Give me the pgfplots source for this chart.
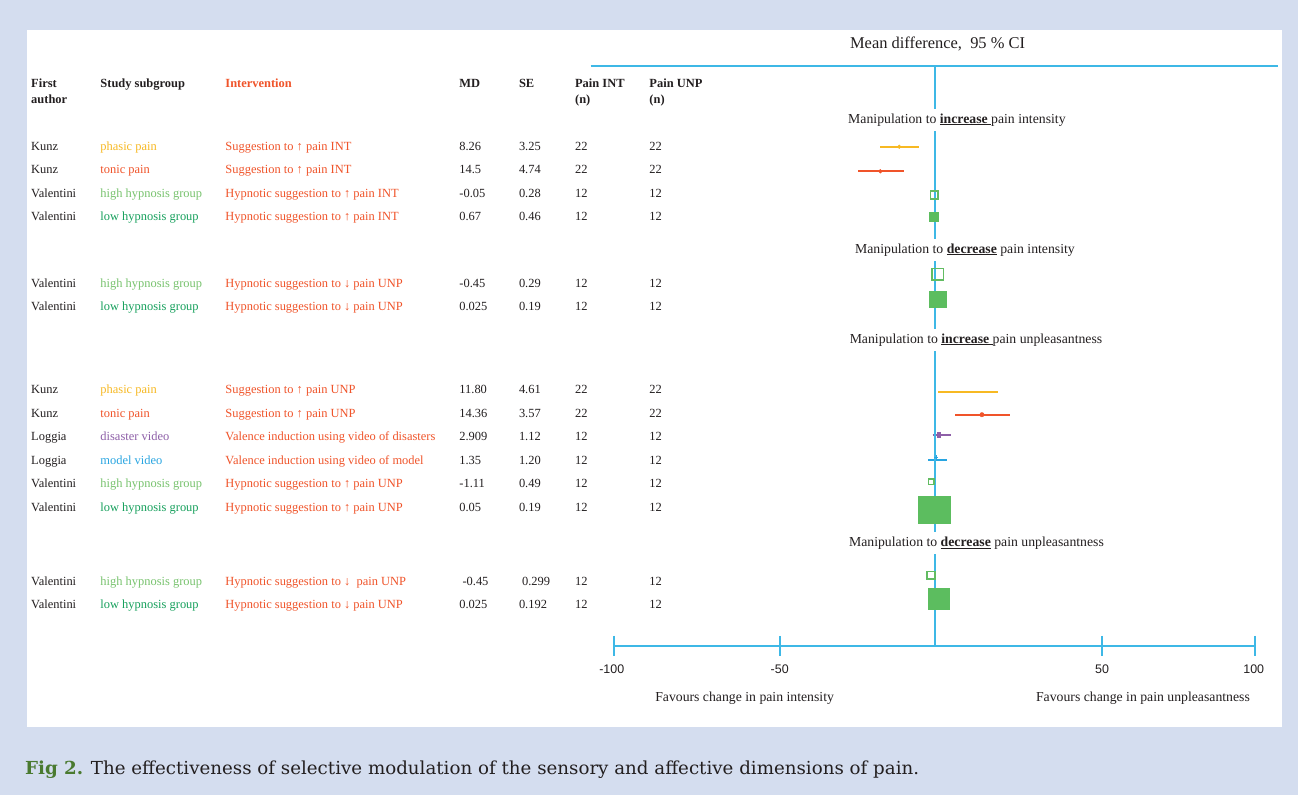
\documentclass[border=0pt]{standalone}
\usepackage{pgfplots}
\pgfplotsset{compat=1.18}
\usepackage{fontspec}
\usepackage{graphicx}
\setmainfont{Liberation Serif}
\newfontfamily\sansf{Liberation Sans}
\newfontfamily\capfont{DejaVu Serif}
\definecolor{bgblue}{RGB}{212,221,239}
\definecolor{lineblue}{RGB}{62,184,230}
\definecolor{txt}{RGB}{35,31,32}
\definecolor{gold}{RGB}{247,185,35}
\definecolor{redor}{RGB}{240,84,42}
\definecolor{lgreen}{RGB}{120,195,110}
\definecolor{dgreen}{RGB}{22,160,92}
\definecolor{sqgreen}{RGB}{98,188,98}
\definecolor{fgreen}{RGB}{92,189,95}
\definecolor{purp}{RGB}{142,95,168}
\definecolor{mblue}{RGB}{40,165,225}
\definecolor{capgreen}{RGB}{74,122,48}
\newcommand{\rf}{\fontsize{12.5}{15}\selectfont}
% y-baseline, author, subgroup colour, subgroup, intervention, MD, SE, nINT, nUNP
\newcommand{\rowtxt}[9]{%
 \node[txt, font=\rf, anchor=base west, inner sep=0pt] at (-281.9,#1) {#2};
 \node[#3, font=\rf, anchor=base west, inner sep=0pt] at (-260.3,#1) {#4};
 \node[redor, font=\rf, anchor=base west, inner sep=0pt] at (-221.3,#1) {#5};
 \node[txt, font=\rf, anchor=base west, inner sep=0pt] at (-148.3,#1) {#6};
 \node[txt, font=\rf, anchor=base west, inner sep=0pt] at (-129.7,#1) {#7};
 \node[txt, font=\rf, anchor=base west, inner sep=0pt] at (-112.2,#1) {#8};
 \node[txt, font=\rf, anchor=base west, inner sep=0pt] at (-89.0,#1) {#9};
}
\begin{document}
\begin{tikzpicture}
\begin{axis}[scale only axis, width=1298bp, height=795bp,
  xmin=-291.58, xmax=113.42, ymin=0, ymax=795, y dir=reverse,
  hide axis, clip=false]
% panels
\fill[bgblue] (-291.58,0) rectangle (113.42,795);
\fill[white] (-283.2,30) rectangle (108.3,727);
% header
\draw[lineblue, line width=2bp] (-107.3,66.5) -- (107.3,66.5);
\node[txt, font=\fontsize{16.5}{18}\selectfont, anchor=base west, inner sep=0pt] at (-26.4,49) {Mean difference,\ \ 95 \% CI};
\node[txt, font=\rf\bfseries, anchor=base west, inner sep=0pt] at (-281.9,87.2) {First};
\node[txt, font=\rf\bfseries, anchor=base west, inner sep=0pt] at (-281.9,103.8) {author};
\node[txt, font=\rf\bfseries, anchor=base west, inner sep=0pt] at (-260.3,87.2) {Study subgroup};
\node[redor, font=\rf\bfseries, anchor=base west, inner sep=0pt] at (-221.3,87.2) {Intervention};
\node[txt, font=\rf\bfseries, anchor=base west, inner sep=0pt] at (-148.3,87.2) {MD};
\node[txt, font=\rf\bfseries, anchor=base west, inner sep=0pt] at (-129.7,87.2) {SE};
\node[txt, font=\rf\bfseries, anchor=base west, inner sep=0pt] at (-112.2,87.2) {Pain INT};
\node[txt, font=\rf\bfseries, anchor=base west, inner sep=0pt] at (-112.2,103.8) {(n)};
\node[txt, font=\rf\bfseries, anchor=base west, inner sep=0pt] at (-89.0,87.2) {Pain UNP};
\node[txt, font=\rf\bfseries, anchor=base west, inner sep=0pt] at (-89.0,103.8) {(n)};
% rows
\rowtxt{150.5}{Kunz}{gold}{phasic pain}{Suggestion to ↑ pain INT}{8.26}{3.25}{22}{22}
\rowtxt{173.8}{Kunz}{redor}{tonic pain}{Suggestion to ↑ pain INT}{14.5}{4.74}{22}{22}
\rowtxt{197.2}{Valentini}{lgreen}{high hypnosis group}{Hypnotic suggestion to ↑ pain INT}{-0.05}{0.28}{12}{12}
\rowtxt{220.5}{Valentini}{dgreen}{low hypnosis group}{Hypnotic suggestion to ↑ pain INT}{0.67}{0.46}{12}{12}
\rowtxt{287.2}{Valentini}{lgreen}{high hypnosis group}{Hypnotic suggestion to ↓ pain UNP}{-0.45}{0.29}{12}{12}
\rowtxt{310.5}{Valentini}{dgreen}{low hypnosis group}{Hypnotic suggestion to ↓ pain UNP}{0.025}{0.19}{12}{12}
\rowtxt{393.8}{Kunz}{gold}{phasic pain}{Suggestion to ↑ pain UNP}{11.80}{4.61}{22}{22}
\rowtxt{417.5}{Kunz}{redor}{tonic pain}{Suggestion to ↑ pain UNP}{14.36}{3.57}{22}{22}
\rowtxt{440.8}{Loggia}{purp}{disaster video}{Valence induction using video of disasters}{2.909}{1.12}{12}{12}
\rowtxt{464.5}{Loggia}{mblue}{model video}{Valence induction using video of model}{1.35}{1.20}{12}{12}
\rowtxt{487.8}{Valentini}{lgreen}{high hypnosis group}{Hypnotic suggestion to ↑ pain UNP}{-1.11}{0.49}{12}{12}
\rowtxt{511.5}{Valentini}{dgreen}{low hypnosis group}{Hypnotic suggestion to ↑ pain UNP}{0.05}{0.19}{12}{12}
\rowtxt{585.2}{Valentini}{lgreen}{high hypnosis group}{Hypnotic suggestion to ↓ \ pain UNP}{\ -0.45}{\ 0.299}{12}{12}
\rowtxt{608.8}{Valentini}{dgreen}{low hypnosis group}{Hypnotic suggestion to ↓ pain UNP}{0.025}{0.192}{12}{12}
% ---- forest: section 1
\addplot[gold, line width=1.9bp] coordinates {(-17.0,146.7) (-4.84,146.7)};
\addplot[gold, only marks, mark=*, mark size=1.9bp] coordinates {(-11.0,146.7)};
\addplot[redor, line width=1.9bp] coordinates {(-23.8,171.3) (-9.5,171.3)};
\addplot[redor, only marks, mark=*, mark size=1.9bp] coordinates {(-16.9,171.3)};
\addplot[sqgreen, only marks, mark=square, mark size=3.8bp, mark options={line width=1.6bp}] coordinates {(-0.1,195)};
\addplot[fgreen, only marks, mark=square*, mark size=4.4bp, mark options={draw=fgreen}] coordinates {(-0.3,217)};
% section 2
\addplot[sqgreen, only marks, mark=square, mark size=5.8bp, mark options={line width=1.6bp}] coordinates {(0.94,274.5)};
\addplot[fgreen, only marks, mark=square*, mark size=8.2bp, mark options={draw=fgreen}] coordinates {(0.94,299)};
% section 3
\addplot[gold, line width=1.9bp] coordinates {(1.19,392) (19.8,392)};
\addplot[redor, line width=1.9bp] coordinates {(6.4,414.7) (23.5,414.7)};
\addplot[redor, only marks, mark=*, mark size=2.2bp] coordinates {(14.8,414.7)};
\addplot[purp, line width=2bp] coordinates {(-0.56,434.7) (5.15,434.7)};
\addplot[purp, only marks, mark=square*, mark size=2.6bp, mark options={xscale=0.55, draw=purp}] coordinates {(1.4,434.7)};
\addplot[mblue, line width=1.9bp] coordinates {(-1.93,459.7) (3.9,459.7)};
\addplot[mblue, only marks, mark=+, mark size=2bp, mark options={line width=1bp}] coordinates {(0.47,457.3)};
\addplot[sqgreen, only marks, mark=square, mark size=2.6bp, mark options={line width=1.4bp}] coordinates {(-1.0,481.7)};
\addplot[fgreen, only marks, mark=square*, mark size=13.5bp, mark options={xscale=1.185, draw=fgreen}] coordinates {(-0.1,509.3)};
% section 4
\addplot[sqgreen, only marks, mark=square, mark size=3.8bp, mark options={line width=1.6bp}] coordinates {(-1.1,575.5)};
\addplot[fgreen, only marks, mark=square*, mark size=10.4bp, mark options={draw=fgreen}] coordinates {(1.2,598.5)};
% zero line and bottom axis (ticks at the drawn positions of the original figure)
\draw[lineblue, line width=2bp] (0,66.5) -- (0,646);
\draw[lineblue, line width=2bp] (-100,646) -- (100,646);
\draw[lineblue, line width=2bp] (-100,636) -- (-100,656);
\draw[lineblue, line width=2bp] (-48.2,636) -- (-48.2,656);
\draw[lineblue, line width=2bp] (52.26,636) -- (52.26,656);
\draw[lineblue, line width=2bp] (100,636) -- (100,656);
\node[txt, font=\sansf\fontsize{12.5}{14}\selectfont, anchor=base] at (-100.7,673.5) {-100};
\node[txt, font=\sansf\fontsize{12.5}{14}\selectfont, anchor=base] at (-48.3,673.5) {-50};
\node[txt, font=\sansf\fontsize{12.5}{14}\selectfont, anchor=base] at (52.3,673.5) {50};
\node[txt, font=\sansf\fontsize{12.5}{14}\selectfont, anchor=base] at (99.6,673.5) {100};
\node[txt, font=\fontsize{13.8}{16}\selectfont, anchor=base] at (-59.25,701.5) {Favours change in pain intensity};
\node[txt, font=\fontsize{13.8}{16}\selectfont, anchor=base] at (65.05,701.5) {Favours change in pain unpleasantness};
% section titles
\node[txt, fill=white, font=\fontsize{13.8}{16}\selectfont, anchor=base, inner xsep=3bp, inner ysep=5bp] at (7.0,123.1) {Manipulation to \underline{\textbf{increase}\ }pain intensity};
\node[txt, fill=white, font=\fontsize{13.8}{16}\selectfont, anchor=base, inner xsep=3bp, inner ysep=5bp] at (9.5,253.1) {Manipulation to \underline{\textbf{decrease}} pain intensity};
\node[txt, fill=white, font=\fontsize{13.8}{16}\selectfont, anchor=base, inner xsep=3bp, inner ysep=5bp] at (12.95,343.1) {Manipulation to \underline{\textbf{increase}\ }pain unpleasantness};
\node[txt, fill=white, font=\fontsize{13.8}{16}\selectfont, anchor=base, inner xsep=3bp, inner ysep=5bp] at (13.1,546.5) {Manipulation to \underline{\textbf{decrease}} pain unpleasantness};
% caption
\node[anchor=west, inner sep=0pt] at (-283.8,770) {\resizebox{894bp}{\height}{\capfont\fontsize{18}{20}\selectfont\textcolor{capgreen}{\textbf{Fig 2.}} \textcolor{txt}{The effectiveness of selective modulation of the sensory and affective dimensions of pain.}}};
\end{axis}
\end{tikzpicture}
\end{document}
